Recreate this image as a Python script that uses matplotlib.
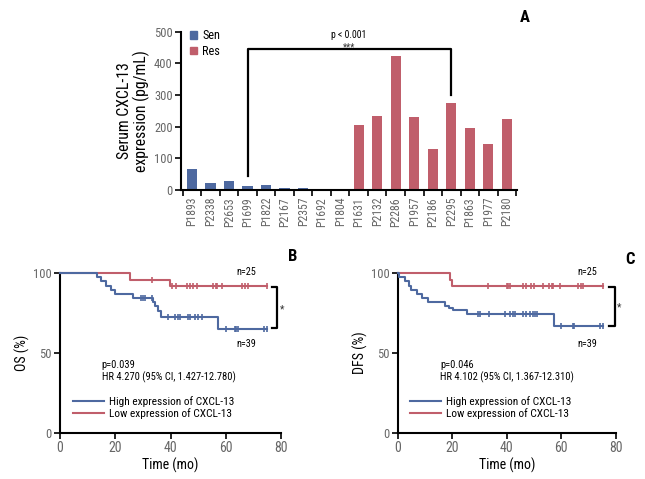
import numpy as np
import matplotlib
matplotlib.use('Agg')
import matplotlib.pyplot as plt
from matplotlib.lines import Line2D
from matplotlib.patches import Patch
from matplotlib import font_manager

names = {f.name for f in font_manager.fontManager.ttflist}
cands = ['Roboto Condensed', 'Archivo Narrow', 'Liberation Sans Narrow', 'Liberation Sans', 'DejaVu Sans']
fams = [c for c in cands if c in names] or ['DejaVu Sans']
if 'DejaVu Sans' not in fams:
    fams.append('DejaVu Sans')
plt.rcParams['font.family'] = fams

# ---------------- data ----------------
patients = ['P1893', 'P2338', 'P2653', 'P1699', 'P1822', 'P2167', 'P2357', 'P1692', 'P1804',
            'P1631', 'P2132', 'P2286', 'P1957', 'P2186', 'P2295', 'P1863', 'P1977', 'P2180']
cxcl13 = [65, 23, 30, 13, 16, 5, 5, 1, 0,
          204, 234, 423, 230, 129, 275, 196, 144, 223]
group = ['Sen'] * 9 + ['Res'] * 9

# OS (panel B)
os_high_t = [0, 13.3, 15.0, 16.5, 18.5, 20.0, 26.5, 33.5, 34.5, 35.3, 36.7, 57.3]
os_high_s = [100, 97.4, 94.9, 92.3, 89.7, 87.2, 84.6, 82.0, 79.3, 76.6, 72.4, 65.0]
os_high_cens = [29.3, 30.2, 30.8, 33.2, 39.2, 41.6, 42.6, 43.4, 46.2, 47.0, 48.9, 49.8, 51.3,
                60.0, 63.3, 63.8, 64.3, 74.0, 74.8]
os_low_t = [0, 25.5, 39.9]
os_low_s = [100, 96.0, 92.0]
os_low_cens = [33.2, 40.5, 42.0, 46.1, 47.1, 48.3, 49.5, 55.5, 56.5, 57.0, 58.5, 66.0, 67.0, 67.9, 74.9]

# DFS (panel C)
dfs_high_t = [0, 0.5, 2.5, 4.0, 5.0, 7.0, 9.0, 11.0, 17.5, 19.0, 20.2, 25.5, 57.3]
dfs_high_s = [100, 97.4, 94.9, 92.3, 89.7, 87.2, 84.6, 82.1, 79.5, 78.0, 76.9, 74.4, 67.0]
dfs_high_cens = [29.5, 30.3, 33.6, 39.4, 41.2, 42.2, 43.0, 46.1, 47.1, 48.5, 49.5, 50.4,
                 51.2, 60.1, 64.2, 64.7, 74.4, 75.4]
dfs_low_t = [0, 19.2, 19.8]
dfs_low_s = [100, 96.0, 92.0]
dfs_low_cens = [33.3, 40.0, 40.6, 41.2, 46.1, 47.1, 49.1, 50.0, 53.4, 55.6, 56.5, 57.1,
                59.5, 66.3, 67.1, 68.1, 75.2]

BLUE = '#4E69A0'
RED = '#C05E6B'
GRAY = '#666666'

fig = plt.figure(figsize=(6.45, 4.79), dpi=100)
W, H = 645.0, 479.0


def axes_px(left, top, right, bottom):
    return fig.add_axes([left / W, 1 - bottom / H, (right - left) / W, (bottom - top) / H])


# ---------------- panel A ----------------
axA = axes_px(181, 31.7, 517, 190)
x = np.arange(len(patients))
cols = [BLUE if g == 'Sen' else RED for g in group]
axA.bar(x, cxcl13, width=0.56, color=cols, zorder=2)
axA.set_xlim(-0.6, 17.55)
axA.set_ylim(0, 500)
axA.set_yticks([0, 100, 200, 300, 400, 500])
axA.set_xticks(x)
axA.set_xticklabels(patients, rotation=90, fontsize=8.5, color=GRAY)
axA.set_xticks(np.arange(-0.5, 17.6, 1.0), minor=True)
axA.tick_params(axis='x', which='major', length=0, pad=5)
axA.tick_params(axis='x', which='minor', length=4, width=1.2, color='black')
axA.tick_params(axis='y', length=4, width=1.2, labelsize=9, labelcolor=GRAY, pad=2)
for s in ['top', 'right']:
    axA.spines[s].set_visible(False)
for s in ['left', 'bottom']:
    axA.spines[s].set_linewidth(1.5)
axA.set_ylabel('Serum CXCL-13\nexpression (pg/mL)', fontsize=11.3, labelpad=3, linespacing=1.0)

# significance bracket between P1699 and P2295
br_x = [3, 3, 14, 14]
br_y = [45, 445, 445, 300]
axA.plot(br_x, br_y, color='black', lw=1.6, clip_on=False, zorder=3)
axA.text(8.47, 488, 'p < 0.001', ha='center', va='center', fontsize=7)
axA.text(8.47, 452, '***', ha='center', va='center', fontsize=7, color='#333333')

axA.legend(handles=[Patch(color=BLUE, label='Sen'), Patch(color=RED, label='Res')],
           loc='upper left', bbox_to_anchor=(0.027, 1.015), frameon=False, fontsize=8.8,
           handlelength=0.55, handleheight=0.6, handletextpad=0.45, labelspacing=0.2,
           borderpad=0, borderaxespad=0)
fig.text(525 / W, 1 - 17 / H, 'A', fontsize=12, fontweight='bold', ha='center', va='center')


# ---------------- KM panels ----------------
def level(ts, ss, t):
    i = np.searchsorted(ts, t, side='right') - 1
    return ss[i]


def km_panel(ax, hi_t, hi_s, hi_c, lo_t, lo_s, lo_c, ylabel, ptxt, hrtxt, n_x, br_x0, br_x1,
             br_top, br_bot, star_x, txt_x, leg_x):
    for t_, s_, c_, col in [(lo_t, lo_s, lo_c, RED), (hi_t, hi_s, hi_c, BLUE)]:
        tt = list(t_) + [max(c_)]
        ss = list(s_) + [s_[-1]]
        ax.step(tt, ss, where='post', color=col, lw=1.5, clip_on=False, zorder=3)
        cy = [level(np.array(t_), np.array(s_), c) for c in c_]
        ax.plot(c_, cy, ls='none', marker='|', ms=5, mew=1.2, color=col, clip_on=False, zorder=3)
    ax.set_xlim(0, 80)
    ax.set_ylim(0, 100)
    ax.set_xticks([0, 20, 40, 60, 80])
    ax.set_yticks([0, 50, 100])
    ax.tick_params(axis='x', length=4, width=1.2, labelsize=10, labelcolor=GRAY, pad=2)
    ax.tick_params(axis='y', length=4, width=1.2, labelsize=9, labelcolor=GRAY, pad=2)
    for s in ['top', 'right']:
        ax.spines[s].set_visible(False)
    for s in ['left', 'bottom']:
        ax.spines[s].set_linewidth(1.5)
    ax.set_xlabel('Time (mo)', fontsize=10, labelpad=2)
    ax.set_ylabel(ylabel, fontsize=10, labelpad=2)
    ax.text(n_x, 100.8, 'n=25', ha='center', va='center', fontsize=7.4)
    ax.text(n_x, 55.6, 'n=39', ha='center', va='center', fontsize=7.4)
    ax.plot([br_x0, br_x1, br_x1, br_x0], [br_top, br_top, br_bot, br_bot], color='black',
            lw=1.6, clip_on=False)
    ax.text(star_x, (br_top + br_bot) / 2 - 1, '*', ha='center', va='center', fontsize=7.5,
            color='#333333')
    ax.text(txt_x, 42.5, ptxt, ha='left', va='center', fontsize=7.6)
    ax.text(txt_x, 35.1, hrtxt, ha='left', va='center', fontsize=7.6)
    ax.legend(handles=[Line2D([], [], color=BLUE, lw=1.5, label='High expression of CXCL-13'),
                       Line2D([], [], color=RED, lw=1.5, label='Low expression of CXCL-13')],
              loc='center left', bbox_to_anchor=(leg_x, 0.158), frameon=False, fontsize=8.2,
              handlelength=2.7, handletextpad=0.45, labelspacing=0.15, borderpad=0,
              borderaxespad=0)


axB = axes_px(60, 273.3, 281, 432.7)
km_panel(axB, os_high_t, os_high_s, os_high_cens, os_low_t, os_low_s, os_low_cens,
         'OS (%)', 'p=0.039', 'HR 4.270 (95% CI, 1.427-12.780)', 67.6, 76.7, 78.5, 91.6, 65.5,
         80.5, 15.1, 0.06)
fig.text(292.7 / W, 1 - 256.7 / H, 'B', fontsize=12, fontweight='bold', ha='center', va='center')

axC = axes_px(397.7, 273.3, 615.7, 432.7)
km_panel(axC, dfs_high_t, dfs_high_s, dfs_high_cens, dfs_low_t, dfs_low_s, dfs_low_cens,
         'DFS (%)', 'p=0.046', 'HR 4.102 (95% CI, 1.367-12.310)', 69.4, 77.7, 79.7, 91.6, 67.0,
         81.3, 15.5, 0.056)
fig.text(630 / W, 1 - 260 / H, 'C', fontsize=12, fontweight='bold', ha='center', va='center')

fig.savefig('out.png', dpi=100)
